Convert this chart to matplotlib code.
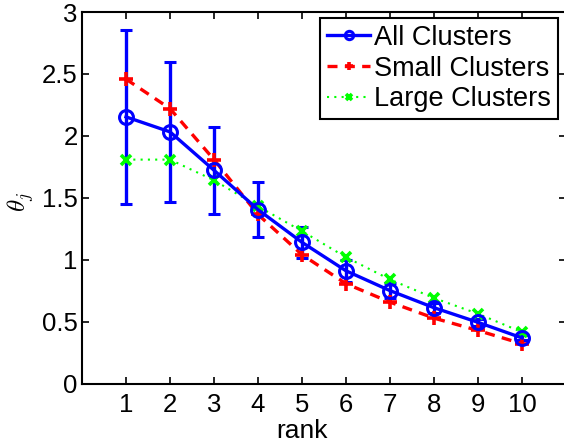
import matplotlib
matplotlib.use("Agg")
from matplotlib import pyplot as plt

plt.rcParams['font.family'] = ['Liberation Sans', 'DejaVu Sans']
plt.rcParams['mathtext.fontset'] = 'cm'

# datos
rank = [1, 2, 3, 4, 5, 6, 7, 8, 9, 10]
todos = [2.153, 2.032, 1.722, 1.404, 1.14, 0.91, 0.75, 0.612, 0.494, 0.368]
todosErr = [0.70, 0.566, 0.35, 0.22, 0.125, 0.09, 0.06, 0.04, 0.03, 0.02]
pequenos = [2.458, 2.22, 1.808, 1.365, 1.04, 0.806, 0.657, 0.528, 0.428, 0.321]
grandes = [1.808, 1.808, 1.641, 1.431, 1.23, 1.02, 0.84, 0.69, 0.563, 0.415]

etiquetas = ['All Clusters', 'Small Clusters', 'Large Clusters']
yticks = [0, 0.5, 1, 1.5, 2, 2.5, 3]
yticklabels = ['0', '0.5', '1', '1.5', '2', '2.5', '3']

figura = plt.figure(figsize=(5.64, 4.44), dpi=100)
ejes = figura.add_axes([82/564, 1-383.5/444, 484/564, 371.5/444])

barras = ejes.errorbar(rank, todos, yerr=todosErr, color='#0000ff', lw=2.4,
                       marker='o', markersize=10, markerfacecolor='none',
                       markeredgewidth=2.2, capsize=4, capthick=2.4,
                       elinewidth=2.4)
linea2, = ejes.plot(rank, pequenos, color='#ff0000', lw=2.4, ls=(0, (3, 2.2)),
                    marker='+', markersize=10, markeredgewidth=2.6)
linea3, = ejes.plot(rank, grandes, color='#00ff00', lw=1.5, ls=(0, (1, 2.5)),
                    marker='x', markersize=7, markeredgewidth=2.6)

ejes.set_xlim(0, 11)
ejes.set_ylim(0, 3)
ejes.set_xticks(rank)
ejes.set_yticks(yticks)
ejes.set_yticklabels(yticklabels)
ejes.tick_params(direction='in', length=5, width=1.2, labelsize=18.5,
                 top=True, right=True)
ejes.tick_params(axis='x', pad=7)
ejes.tick_params(axis='y', pad=3)
for lado in ejes.spines.values():
  lado.set_linewidth(1.5)

ejes.set_xlabel('rank', fontsize=19, va='center')
ejes.xaxis.set_label_coords(0.4545, -0.128)
ejes.set_ylabel(r'$\theta_j$', fontsize=18, va='center')
ejes.yaxis.set_label_coords(-0.127, 0.49)

leyenda = ejes.legend([barras.lines[0], linea2, linea3], etiquetas,
                      loc='upper right', bbox_to_anchor=(0.9835, 0.984),
                      borderaxespad=0, fontsize=19.5, markerscale=0.6,
                      handlelength=1.6, handletextpad=0.15, labelspacing=0.18,
                      borderpad=0.25, fancybox=False, framealpha=1)
leyenda.get_frame().set_edgecolor('black')
leyenda.get_frame().set_linewidth(1.5)

figura.savefig('out.png', dpi=100)
